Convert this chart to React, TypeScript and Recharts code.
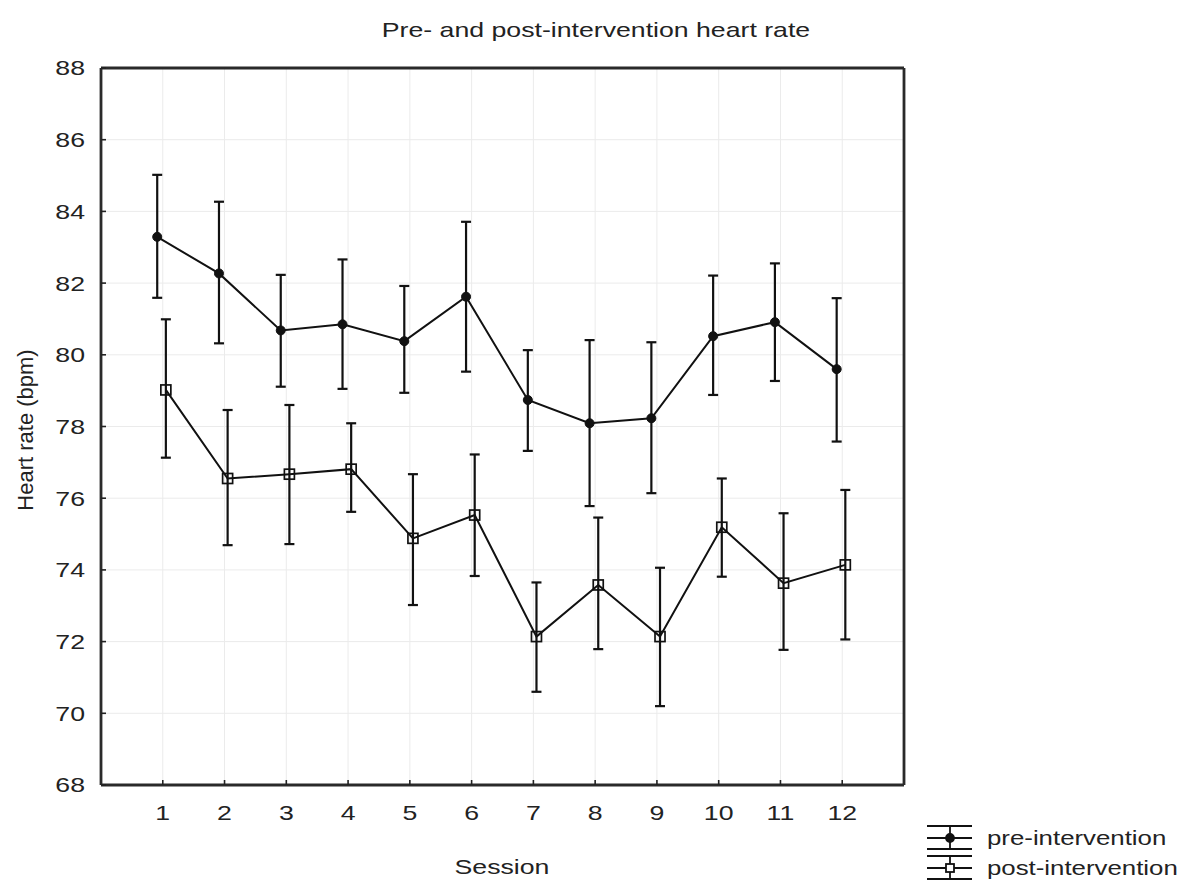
import { ComposedChart, Line, XAxis, YAxis, CartesianGrid, ErrorBar } from "recharts";

// session numbers on the x axis
const sessions = [1, 2, 3, 4, 5, 6, 7, 8, 9, 10, 11, 12];

// pre-intervention mean and interval ends (bpm)
const preMean = [83.29, 82.27, 80.68, 80.85, 80.38, 81.62, 78.74, 78.09, 78.23, 80.52, 80.91, 79.6];
const preHigh = [85.02, 84.27, 82.23, 82.66, 81.92, 83.71, 80.13, 80.41, 80.35, 82.21, 82.55, 81.58];
const preLow = [81.59, 80.32, 79.11, 79.05, 78.94, 79.53, 77.32, 75.78, 76.14, 78.88, 79.27, 77.58];

// post-intervention mean and interval ends (bpm)
const postMean = [79.02, 76.55, 76.67, 76.81, 74.88, 75.53, 72.14, 73.58, 72.14, 75.19, 73.63, 74.14];
const postHigh = [80.99, 78.46, 78.6, 78.09, 76.67, 77.22, 73.65, 75.46, 74.06, 76.55, 75.58, 76.23];
const postLow = [77.13, 74.69, 74.72, 75.62, 73.02, 73.83, 70.6, 71.79, 70.2, 73.81, 71.77, 72.06];

const yTicks = [68, 70, 72, 74, 76, 78, 80, 82, 84, 86, 88];

// small horizontal dodge so the two series don't overlap
const PRE_SHIFT = -0.09;
const POST_SHIFT = 0.05;

const W = 1185;
const H = 878;
const FONT = "'Liberation Sans', Arial, Helvetica, sans-serif";
const FS = 21;
const SX = 1.27; // text in the source is stretched sideways
const INK = "#111";

const buildSeries = (mean: number[], low: number[], high: number[], shift: number) =>
  sessions.map((s, i) => ({
    x: s + shift,
    y: mean[i],
    err: [+(mean[i] - low[i]).toFixed(2), +(high[i] - mean[i]).toFixed(2)],
  }));

const preData = buildSeries(preMean, preLow, preHigh, PRE_SHIFT);
const postData = buildSeries(postMean, postLow, postHigh, POST_SHIFT);

const stretch = (x: number, k = SX) => `translate(${x} 0) scale(${k} 1) translate(${-x} 0)`;

const XTick = ({ x, y, payload }: any) => (
  <text x={x} y={y} dy="0.71em" textAnchor="middle" fontFamily={FONT} fontSize={FS} fill="#222" transform={stretch(x)}>
    {payload.value}
  </text>
);

const YTick = ({ x, y, payload }: any) => (
  <text x={x} y={y} dy="0.355em" textAnchor="end" fontFamily={FONT} fontSize={FS} fill="#222" transform={stretch(x)}>
    {payload.value}
  </text>
);

const SquareDot = ({ cx, cy, index }: any) => (
  <rect key={`sq-${index}`} x={cx - 5} y={cy - 5} width={10} height={10} fill="none" stroke={INK} strokeWidth={1.7} />
);

const LegendIcon = ({ cy, square }: { cy: number; square?: boolean }) => (
  <g stroke={INK} strokeWidth={1.8}>
    <line x1={14} x2={59} y1={cy - 12} y2={cy - 12} />
    <line x1={14} x2={59} y1={cy} y2={cy} />
    <line x1={14} x2={59} y1={cy + 11} y2={cy + 11} />
    <line x1={37} x2={37} y1={cy - 12} y2={cy + 11} />
    {square ? (
      <rect x={33} y={cy - 4} width={8} height={8} fill="#fff" />
    ) : (
      <circle cx={37} cy={cy} r={4} fill={INK} />
    )}
  </g>
);

export default function App() {
  return (
    <div style={{ position: "relative", width: W, height: H, fontFamily: FONT }}>
      <ComposedChart width={W} height={H} margin={{ top: 60, right: 289, bottom: 41, left: 33 }}>
        <CartesianGrid stroke="#ebebeb" strokeWidth={1} />
        <XAxis
          type="number"
          dataKey="x"
          domain={[0, 13]}
          ticks={sessions}
          allowDataOverflow
          height={60}
          tickSize={-5}
          tickMargin={25}
          tick={<XTick />}
          axisLine={{ stroke: "#2a2a2a", strokeWidth: 2.8 }}
          tickLine={{ stroke: "#222", strokeWidth: 1.6 }}
        />
        <XAxis
          xAxisId="top"
          orientation="top"
          mirror
          type="number"
          domain={[0, 13]}
          ticks={sessions}
          allowDataOverflow
          tick={false}
          tickSize={5}
          axisLine={{ stroke: "#2a2a2a", strokeWidth: 2.8 }}
          tickLine={{ stroke: "#222", strokeWidth: 1.6 }}
        />
        <YAxis
          type="number"
          domain={[68, 88]}
          ticks={yTicks}
          allowDataOverflow
          width={60}
          tickSize={-5}
          tickMargin={21}
          tick={<YTick />}
          axisLine={{ stroke: "#2a2a2a", strokeWidth: 2.8 }}
          tickLine={{ stroke: "#222", strokeWidth: 1.6 }}
        />
        <YAxis
          yAxisId="right"
          orientation="right"
          mirror
          type="number"
          domain={[68, 88]}
          ticks={yTicks}
          allowDataOverflow
          tick={false}
          tickSize={5}
          axisLine={{ stroke: "#2a2a2a", strokeWidth: 2.8 }}
          tickLine={{ stroke: "#222", strokeWidth: 1.6 }}
        />
        <Line
          data={preData}
          dataKey="y"
          name="pre-intervention"
          stroke={INK}
          strokeWidth={2}
          dot={{ r: 4.5, fill: INK, stroke: INK, strokeWidth: 1 }}
          activeDot={false}
          isAnimationActive={false}
        >
          <ErrorBar dataKey="err" direction="y" width={5} stroke={INK} strokeWidth={2.2} />
        </Line>
        <Line
          data={postData}
          dataKey="y"
          name="post-intervention"
          stroke={INK}
          strokeWidth={2}
          dot={<SquareDot />}
          activeDot={false}
          isAnimationActive={false}
        >
          <ErrorBar dataKey="err" direction="y" width={5} stroke={INK} strokeWidth={2.2} />
        </Line>
      </ComposedChart>

      <svg width={W} height={H} style={{ position: "absolute", left: 0, top: 0, pointerEvents: "none" }}>
        <text x={588} y={29.5} textAnchor="middle" fontFamily={FONT} fontSize={FS} fill="#222" transform={stretch(588)}>
          Pre- and post-intervention heart rate
        </text>
        <text x={494} y={866.5} textAnchor="middle" fontFamily={FONT} fontSize={FS} fill="#222" transform={stretch(494)}>
          Session
        </text>
        <text transform="translate(17 422) rotate(-90)" x={0} y={7.5} textAnchor="middle" fontFamily={FONT} fontSize={22} fill="#222">
          Heart rate (bpm)
        </text>
        <g transform="translate(905 805)">
          <LegendIcon cy={25} />
          <LegendIcon cy={55} square />
          <text x={74} y={25 + 7.5} fontFamily={FONT} fontSize={FS} fill="#222" transform={stretch(74, 1.23)}>
            pre-intervention
          </text>
          <text x={74} y={55 + 7.5} fontFamily={FONT} fontSize={FS} fill="#222" transform={stretch(74, 1.23)}>
            post-intervention
          </text>
        </g>
      </svg>
    </div>
  );
}
